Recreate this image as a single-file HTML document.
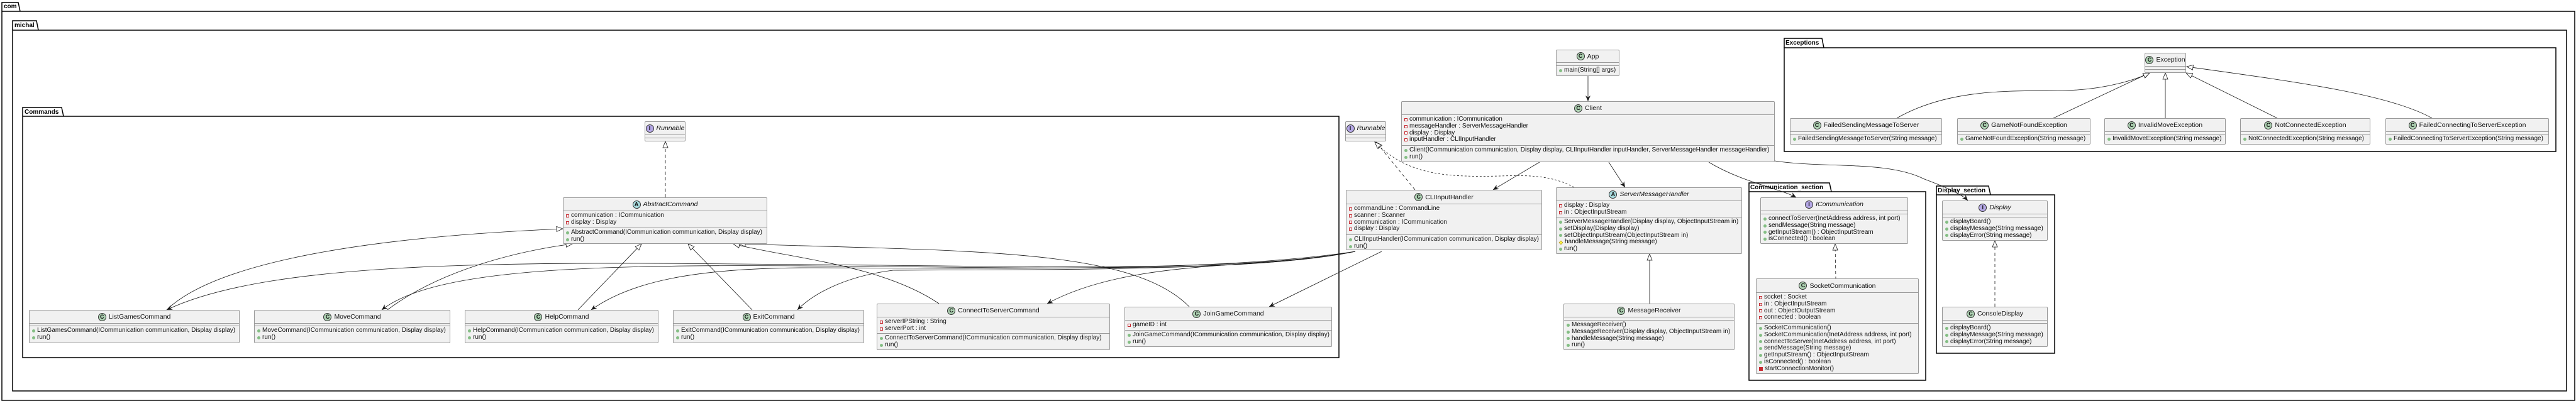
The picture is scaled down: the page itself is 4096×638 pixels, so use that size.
<!DOCTYPE html>
<html><head><meta charset="utf-8"><style>
*{margin:0;padding:0;box-sizing:border-box}
body{width:4096px;height:638px;background:#fff;position:relative;overflow:hidden;font-family:"Liberation Sans","DejaVu Sans",sans-serif;}
svg{position:absolute;left:0;top:0}
.c{position:absolute;background:#F1F1F1;border:1px solid #999;border-radius:2px;font-size:10px;color:#111}
.h{display:flex;align-items:center;justify-content:center;border-bottom:1px solid #999;font-size:10.5px;white-space:nowrap}
.h i.n{font-style:italic}
.ic{display:inline-block;width:13px;height:13px;border-radius:50%;border:1px solid #333;font-size:9px;font-weight:bold;line-height:11px;text-align:center;margin-right:4px;font-style:normal}
.C{background:#ADD1B2}.A{background:#A9DCDF}.I{background:#B4A7E5}
.s{border-bottom:1px solid #999;padding:2px 0 0 4px;white-space:nowrap;line-height:10.8px}
.s:last-child{border-bottom:none}
.r{display:flex;align-items:center;height:10.8px}
.pv{width:5px;height:5px;border:1px solid #C82930;margin-right:3px;flex:none}
.pvf{width:6px;height:6px;background:#C82930;margin-right:3px;flex:none}
.pb{width:5px;height:5px;border-radius:50%;background:#84BE84;margin-right:3px;flex:none}
.pt{width:6px;height:6px;background:#FFFF44;border:1px solid #B38D22;transform:rotate(45deg) scale(.8);margin-right:3px;flex:none}
.t{position:absolute;font-size:10px;font-weight:bold;white-space:nowrap}
</style></head><body>
<svg width="4096" height="638" viewBox="0 0 4096 638">
<defs>
<marker id="tri" markerUnits="userSpaceOnUse" markerWidth="14" markerHeight="12" refX="11" refY="5" orient="auto"><path d="M1,1 L11,5 L1,9 Z" fill="#fff" stroke="#181818" stroke-width="0.8"/></marker>
<marker id="arr" markerUnits="userSpaceOnUse" markerWidth="12" markerHeight="10" refX="9" refY="4" orient="auto"><path d="M0,0 L9,4 L0,8 L3,4 Z" fill="#181818"/></marker>
</defs>
<g fill="none" stroke="#000" stroke-width="1.5">
<path d="M3,18 L3,4 L29,4 L32,18"/><rect x="3" y="18" width="4091" height="619"/>
<path d="M20,48 L20,33 L58,33 L61,48"/><rect x="20" y="48" width="4061" height="574"/>
<path d="M36,185 L36,171 L98,171 L101,185"/><rect x="36" y="185" width="2093" height="384"/>
<path d="M2837,76 L2837,61 L2897,61 L2900,76"/><rect x="2837" y="76" width="1227" height="165"/>
<path d="M2781,305 L2781,291 L2909,291 L2912,305"/><rect x="2781" y="305" width="281" height="300"/>
<path d="M3079,310 L3079,296 L3162,296 L3165,310"/><rect x="3079" y="310" width="188" height="252"/>
</g>
<g fill="none" stroke="#181818" stroke-width="0.8">
<path d="M1058,314 L1058,225" stroke-dasharray="5,4" marker-end="url(#tri)"/>
<path d="M265,493 C330,430 520,380 895,364" marker-end="url(#tri)"/>
<path d="M616,493 C700,430 820,400 910,388" marker-end="url(#tri)"/>
<path d="M919,493 L1020,388" marker-end="url(#tri)"/>
<path d="M1196,493 L1094,388" marker-end="url(#tri)"/>
<path d="M1493,483 C1400,420 1250,410 1166,388" marker-end="url(#tri)"/>
<path d="M1891,488 C1800,395 1550,400 1175,388" marker-end="url(#tri)"/>
<path d="M2155,400 C2000,430 1700,425 1400,422 C900,418 450,405 265,493" marker-end="url(#arr)"/>
<path d="M2155,400 C2000,432 1700,427 1400,424 C1000,420 700,420 607,493" marker-end="url(#arr)"/>
<path d="M2155,400 C1950,432 1600,427 1300,426 C1100,425 1000,450 940,493" marker-end="url(#arr)"/>
<path d="M2155,400 C2000,434 1600,428 1420,430 C1340,440 1290,470 1268,493" marker-end="url(#arr)"/>
<path d="M2155,400 C2000,430 1800,410 1665,483" marker-end="url(#arr)"/>
<path d="M2197,400 L2018,488" marker-end="url(#arr)"/>
<path d="M2250,302 L2188,226" stroke-dasharray="5,4" marker-end="url(#tri)"/>
<path d="M2503,298 C2450,270 2400,283 2330,280 C2260,278 2220,260 2186,226" stroke-dasharray="3,3" marker-end="url(#tri)"/>
<path d="M2525,121 L2525,161" marker-end="url(#arr)"/>
<path d="M2448,258 L2374,302" marker-end="url(#arr)"/>
<path d="M2558,258 L2584,298" marker-end="url(#arr)"/>
<path d="M2717,258 C2770,290 2830,300 2856,314" marker-end="url(#arr)"/>
<path d="M2822,256 C2900,268 3000,255 3060,285 C3100,300 3120,310 3129,319" marker-end="url(#arr)"/>
<path d="M2623,483 L2623,404" marker-end="url(#tri)"/>
<path d="M2919,445 L2918,388" stroke-dasharray="5,4" marker-end="url(#tri)"/>
<path d="M3172,488 L3172,383" stroke-dasharray="5,4" marker-end="url(#tri)"/>
<path d="M3016,188 C3100,140 3200,145 3280,144 C3350,143 3400,125 3418,116" marker-end="url(#tri)"/>
<path d="M3265,188 L3418,116" marker-end="url(#tri)"/>
<path d="M3443,188 L3443,116" marker-end="url(#tri)"/>
<path d="M3621,188 L3476,116" marker-end="url(#tri)"/>
<path d="M3867,188 C3800,150 3650,130 3477,106" marker-end="url(#tri)"/>
</g>
</svg>
<div class="t" style="left:6px;top:5px">com</div>
<div class="t" style="left:23px;top:35px">michal</div>
<div class="t" style="left:39px;top:173px">Commands</div>
<div class="t" style="left:2839px;top:63px">Exceptions</div>
<div class="t" style="left:2783px;top:293px">Communication_section</div>
<div class="t" style="left:3081px;top:298px">Display_section</div>

<!-- Runnable (commands) -->
<div class="c" style="left:1025px;top:193px;width:65px;height:32px"><div class="h" style="height:21px"><span class="ic I">I</span><i class="n">Runnable</i></div><div class="s" style="height:5px;padding:0"></div><div class="s" style="height:4px;padding:0"></div></div>
<div class="c" style="left:895px;top:314px;width:325px;height:74px"><div class="h" style="height:21px"><span class="ic A">A</span><i class="n">AbstractCommand</i></div>
<div class="s" style="height:27px"><div class="r"><span class="pv"></span>communication : ICommunication</div><div class="r"><span class="pv"></span>display : Display</div></div>
<div class="s"><div class="r"><span class="pb"></span>AbstractCommand(ICommunication communication, Display display)</div><div class="r"><span class="pb"></span>run()</div></div></div>

<div class="c" style="left:46px;top:493px;width:335px;height:53px"><div class="h" style="height:21px"><span class="ic C">C</span>ListGamesCommand</div><div class="s" style="height:4px;padding:0"></div><div class="s"><div class="r"><span class="pb"></span>ListGamesCommand(ICommunication communication, Display display)</div><div class="r"><span class="pb"></span>run()</div></div></div>
<div class="c" style="left:404px;top:493px;width:312px;height:53px"><div class="h" style="height:21px"><span class="ic C">C</span>MoveCommand</div><div class="s" style="height:4px;padding:0"></div><div class="s"><div class="r"><span class="pb"></span>MoveCommand(ICommunication communication, Display display)</div><div class="r"><span class="pb"></span>run()</div></div></div>
<div class="c" style="left:739px;top:493px;width:308px;height:53px"><div class="h" style="height:21px"><span class="ic C">C</span>HelpCommand</div><div class="s" style="height:4px;padding:0"></div><div class="s"><div class="r"><span class="pb"></span>HelpCommand(ICommunication communication, Display display)</div><div class="r"><span class="pb"></span>run()</div></div></div>
<div class="c" style="left:1070px;top:493px;width:304px;height:53px"><div class="h" style="height:21px"><span class="ic C">C</span>ExitCommand</div><div class="s" style="height:4px;padding:0"></div><div class="s"><div class="r"><span class="pb"></span>ExitCommand(ICommunication communication, Display display)</div><div class="r"><span class="pb"></span>run()</div></div></div>
<div class="c" style="left:1394px;top:483px;width:371px;height:74px"><div class="h" style="height:21px"><span class="ic C">C</span>ConnectToServerCommand</div><div class="s" style="height:26px"><div class="r"><span class="pv"></span>serverIPString : String</div><div class="r"><span class="pv"></span>serverPort : int</div></div><div class="s"><div class="r"><span class="pb"></span>ConnectToServerCommand(ICommunication communication, Display display)</div><div class="r"><span class="pb"></span>run()</div></div></div>
<div class="c" style="left:1788px;top:488px;width:330px;height:64px"><div class="h" style="height:21px"><span class="ic C">C</span>JoinGameCommand</div><div class="s" style="height:16px"><div class="r"><span class="pv"></span>gameID : int</div></div><div class="s"><div class="r"><span class="pb"></span>JoinGameCommand(ICommunication communication, Display display)</div><div class="r"><span class="pb"></span>run()</div></div></div>

<div class="c" style="left:2139px;top:193px;width:65px;height:32px"><div class="h" style="height:21px"><span class="ic I">I</span><i class="n">Runnable</i></div><div class="s" style="height:5px;padding:0"></div><div class="s" style="height:4px;padding:0"></div></div>
<div class="c" style="left:2474px;top:79px;width:101px;height:42px"><div class="h" style="height:20px"><span class="ic C">C</span>App</div><div class="s" style="height:5px;padding:0"></div><div class="s"><div class="r"><span class="pb"></span>main(String[] args)</div></div></div>
<div class="c" style="left:2228px;top:161px;width:594px;height:97px"><div class="h" style="height:21px"><span class="ic C">C</span>Client</div><div class="s" style="height:49px"><div class="r"><span class="pv"></span>communication : ICommunication</div><div class="r"><span class="pv"></span>messageHandler : ServerMessageHandler</div><div class="r"><span class="pv"></span>display : Display</div><div class="r"><span class="pv"></span>inputHandler : CLIInputHandler</div></div><div class="s"><div class="r"><span class="pb"></span>Client(ICommunication communication, Display display, CLIInputHandler inputHandler, ServerMessageHandler messageHandler)</div><div class="r"><span class="pb"></span>run()</div></div></div>
<div class="c" style="left:2140px;top:302px;width:312px;height:96px"><div class="h" style="height:22px"><span class="ic C">C</span>CLIInputHandler</div><div class="s" style="height:49px"><div class="r"><span class="pv"></span>commandLine : CommandLine</div><div class="r"><span class="pv"></span>scanner : Scanner</div><div class="r"><span class="pv"></span>communication : ICommunication</div><div class="r"><span class="pv"></span>display : Display</div></div><div class="s"><div class="r"><span class="pb"></span>CLIInputHandler(ICommunication communication, Display display)</div><div class="r"><span class="pb"></span>run()</div></div></div>
<div class="c" style="left:2474px;top:298px;width:296px;height:106px"><div class="h" style="height:21px"><span class="ic A">A</span><i class="n">ServerMessageHandler</i></div><div class="s" style="height:26px"><div class="r"><span class="pv"></span>display : Display</div><div class="r"><span class="pv"></span>in : ObjectInputStream</div></div><div class="s"><div class="r"><span class="pb"></span>ServerMessageHandler(Display display, ObjectInputStream in)</div><div class="r"><span class="pb"></span>setDisplay(Display display)</div><div class="r"><span class="pb"></span>setObjectInputStream(ObjectInputStream in)</div><div class="r"><span class="pt"></span>handleMessage(String message)</div><div class="r"><span class="pb"></span>run()</div></div></div>
<div class="c" style="left:2486px;top:483px;width:272px;height:74px"><div class="h" style="height:21px"><span class="ic C">C</span>MessageReceiver</div><div class="s" style="height:5px;padding:0"></div><div class="s"><div class="r"><span class="pb"></span>MessageReceiver()</div><div class="r"><span class="pb"></span>MessageReceiver(Display display, ObjectInputStream in)</div><div class="r"><span class="pb"></span>handleMessage(String message)</div><div class="r"><span class="pb"></span>run()</div></div></div>

<div class="c" style="left:3410px;top:84px;width:66px;height:32px"><div class="h" style="height:21px"><span class="ic C">C</span>Exception</div><div class="s" style="height:5px;padding:0"></div><div class="s" style="height:4px;padding:0"></div></div>
<div class="c" style="left:2846px;top:188px;width:242px;height:42px"><div class="h" style="height:21px"><span class="ic C">C</span>FailedSendingMessageToServer</div><div class="s" style="height:4px;padding:0"></div><div class="s"><div class="r"><span class="pb"></span>FailedSendingMessageToServer(String message)</div></div></div>
<div class="c" style="left:3112px;top:188px;width:212px;height:42px"><div class="h" style="height:21px"><span class="ic C">C</span>GameNotFoundException</div><div class="s" style="height:4px;padding:0"></div><div class="s"><div class="r"><span class="pb"></span>GameNotFoundException(String message)</div></div></div>
<div class="c" style="left:3346px;top:188px;width:193px;height:42px"><div class="h" style="height:21px"><span class="ic C">C</span>InvalidMoveException</div><div class="s" style="height:4px;padding:0"></div><div class="s"><div class="r"><span class="pb"></span>InvalidMoveException(String message)</div></div></div>
<div class="c" style="left:3562px;top:188px;width:207px;height:42px"><div class="h" style="height:21px"><span class="ic C">C</span>NotConnectedException</div><div class="s" style="height:4px;padding:0"></div><div class="s"><div class="r"><span class="pb"></span>NotConnectedException(String message)</div></div></div>
<div class="c" style="left:3793px;top:188px;width:260px;height:42px"><div class="h" style="height:21px"><span class="ic C">C</span>FailedConnectingToServerException</div><div class="s" style="height:4px;padding:0"></div><div class="s"><div class="r"><span class="pb"></span>FailedConnectingToServerException(String message)</div></div></div>

<div class="c" style="left:2799px;top:314px;width:235px;height:74px"><div class="h" style="height:21px"><span class="ic I">I</span><i class="n">ICommunication</i></div><div class="s" style="height:5px;padding:0"></div><div class="s"><div class="r"><span class="pb"></span>connectToServer(InetAddress address, int port)</div><div class="r"><span class="pb"></span>sendMessage(String message)</div><div class="r"><span class="pb"></span>getInputStream() : ObjectInputStream</div><div class="r"><span class="pb"></span>isConnected() : boolean</div></div></div>
<div class="c" style="left:2792px;top:443px;width:259px;height:152px"><div class="h" style="height:22px"><span class="ic C">C</span>SocketCommunication</div><div class="s" style="height:49px"><div class="r"><span class="pv"></span>socket : Socket</div><div class="r"><span class="pv"></span>in : ObjectInputStream</div><div class="r"><span class="pv"></span>out : ObjectOutputStream</div><div class="r"><span class="pv"></span>connected : boolean</div></div><div class="s"><div class="r"><span class="pb"></span>SocketCommunication()</div><div class="r"><span class="pb"></span>SocketCommunication(InetAddress address, int port)</div><div class="r"><span class="pb"></span>connectToServer(InetAddress address, int port)</div><div class="r"><span class="pb"></span>sendMessage(String message)</div><div class="r"><span class="pb"></span>getInputStream() : ObjectInputStream</div><div class="r"><span class="pb"></span>isConnected() : boolean</div><div class="r"><span class="pvf"></span>startConnectionMonitor()</div></div></div>
<div class="c" style="left:3088px;top:319px;width:168px;height:64px"><div class="h" style="height:21px"><span class="ic I">I</span><i class="n">Display</i></div><div class="s" style="height:5px;padding:0"></div><div class="s"><div class="r"><span class="pb"></span>displayBoard()</div><div class="r"><span class="pb"></span>displayMessage(String message)</div><div class="r"><span class="pb"></span>displayError(String message)</div></div></div>
<div class="c" style="left:3088px;top:488px;width:168px;height:64px"><div class="h" style="height:21px"><span class="ic C">C</span>ConsoleDisplay</div><div class="s" style="height:5px;padding:0"></div><div class="s"><div class="r"><span class="pb"></span>displayBoard()</div><div class="r"><span class="pb"></span>displayMessage(String message)</div><div class="r"><span class="pb"></span>displayError(String message)</div></div></div>
</body></html>
